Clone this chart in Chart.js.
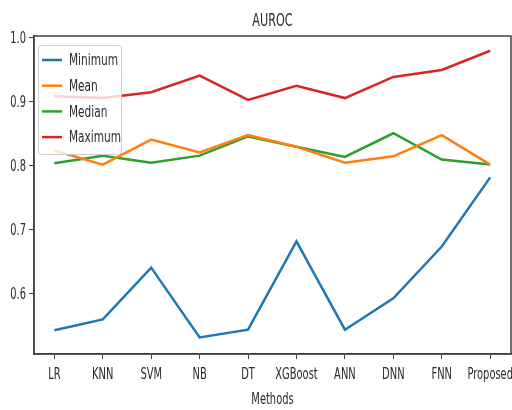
<!DOCTYPE html>
<html>
<head>
<meta charset="utf-8">
<script src="https://cdn.jsdelivr.net/npm/chart.js@4/dist/chart.umd.min.js"></script>
<style>
  html, body { margin: 0; padding: 0; background: #fff; }
  #wrap { width: 512px; height: 410px; }
</style>
</head>
<body>
<div id="wrap"><canvas id="chart" width="512" height="410"></canvas></div>
<script>
const methods = ["LR", "KNN", "SVM", "NB", "DT", "XGBoost", "ANN", "DNN", "FNN", "Proposed"];
const minimumVals = [0.543, 0.560, 0.641, 0.532, 0.544, 0.682, 0.544, 0.593, 0.674, 0.782];
const meanVals    = [0.824, 0.802, 0.841, 0.821, 0.848, 0.830, 0.805, 0.815, 0.848, 0.802];
const medianVals  = [0.804, 0.816, 0.805, 0.816, 0.846, 0.830, 0.814, 0.851, 0.810, 0.802];
const maximumVals = [0.909, 0.906, 0.915, 0.941, 0.903, 0.925, 0.906, 0.939, 0.950, 0.980];
const yTicks = [0.6, 0.7, 0.8, 0.9, 1.0];

const FONT = "'DejaVu Sans', sans-serif";
const SX = 0.66; // the picture's text is squeezed horizontally
const textColor = '#2b2b2b';
const axisColor = '#404040';

function toPoints(vals) {
    return vals.map((v, i) => ({ x: i, y: v }));
}

function series(label, vals, color) {
    return {
        label: label,
        data: toPoints(vals),
        borderColor: color,
        backgroundColor: color,
        borderWidth: 2.5,
        pointRadius: 0,
        tension: 0,
    };
}

function squeezedText(ctx, text, x, y, size, align, baseline) {
    ctx.save();
    ctx.font = size + 'px ' + FONT;
    ctx.fillStyle = textColor;
    ctx.textAlign = align;
    ctx.textBaseline = baseline;
    ctx.translate(x, y);
    ctx.scale(SX, 1);
    ctx.fillText(text, 0, 0);
    ctx.restore();
}

// tick labels, titles: drawn at the scales' own pixel positions
const labels = {
    id: 'labels',
    afterDraw(chart) {
        const ctx = chart.ctx;
        const xs = chart.scales.x, ys = chart.scales.y;
        const a = chart.chartArea;
        xs.ticks.forEach(t => {
            squeezedText(ctx, methods[t.value], xs.getPixelForValue(t.value), 379, 15, 'center', 'alphabetic');
        });
        ys.ticks.forEach(t => {
            squeezedText(ctx, t.value.toFixed(1), 26, ys.getPixelForValue(t.value) + 1, 15, 'right', 'middle');
        });
        squeezedText(ctx, 'AUROC', (a.left + a.right) / 2, 26, 17, 'center', 'alphabetic');
        squeezedText(ctx, 'Methods', (a.left + a.right) / 2, 404, 15, 'center', 'alphabetic');
    }
};

// matplotlib-style legend drawn inside the plot area
const insetLegend = {
    id: 'insetLegend',
    afterDatasetsDraw(chart) {
        const ctx = chart.ctx;
        const area = chart.chartArea;
        const x0 = area.left + 4, y0 = area.top + 9;
        const w = 83, h = 109;
        ctx.save();
        ctx.fillStyle = 'rgba(255,255,255,0.8)';
        ctx.strokeStyle = '#cccccc';
        ctx.lineWidth = 1;
        ctx.beginPath();
        ctx.roundRect(x0 + 0.5, y0 + 0.5, w, h, 3);
        ctx.fill();
        ctx.stroke();
        chart.data.datasets.forEach((ds, i) => {
            const y = y0 + 15 + i * 25.7;
            ctx.strokeStyle = ds.borderColor;
            ctx.lineWidth = 2.5;
            ctx.beginPath();
            ctx.moveTo(x0 + 4, y);
            ctx.lineTo(x0 + 24, y);
            ctx.stroke();
            squeezedText(ctx, ds.label, x0 + 31, y + 1, 16, 'left', 'middle');
        });
        ctx.restore();
    }
};

// top and right spines
const frame = {
    id: 'frame',
    beforeDatasetsDraw(chart) {
        const ctx = chart.ctx;
        const a = chart.chartArea;
        ctx.save();
        ctx.strokeStyle = axisColor;
        ctx.lineWidth = 1.5;
        ctx.strokeRect(a.left, a.top, a.right - a.left, a.bottom - a.top);
        ctx.restore();
    }
};

const chart = new Chart('chart', {
    type: 'line',
    data: {
        datasets: [
            series('Minimum', minimumVals, '#1f77b4'),
            series('Mean', meanVals, '#ff7f0e'),
            series('Median', medianVals, '#2ca02c'),
            series('Maximum', maximumVals, '#d62728'),
        ]
    },
    options: {
        responsive: false,
        animation: false,
        layout: { padding: { left: 0, right: 1, top: 36, bottom: 0 } },
        plugins: {
            legend: { display: false },
            tooltip: { enabled: false },
            title: { display: false }
        },
        scales: {
            x: {
                type: 'linear',
                min: -0.42,
                max: 9.43,
                afterBuildTicks: (scale) => {
                    scale.ticks = methods.map((m, i) => ({ value: i }));
                },
                afterFit: (scale) => {
                    scale.height = 56;
                    scale.paddingLeft = 0;
                    scale.paddingRight = 0;
                },
                ticks: { display: false },
                grid: { drawOnChartArea: false, drawTicks: true, tickLength: 5, color: axisColor },
                border: { display: true, color: axisColor, width: 1.5 }
            },
            y: {
                min: 0.506,
                max: 1.003,
                afterBuildTicks: (scale) => {
                    scale.ticks = yTicks.map(v => ({ value: v }));
                },
                afterFit: (scale) => {
                    scale.width = 34;
                    scale.paddingTop = 0;
                    scale.paddingBottom = 0;
                },
                ticks: { display: false },
                grid: { drawOnChartArea: false, drawTicks: true, tickLength: 5, color: axisColor },
                border: { display: true, color: axisColor, width: 1.5 }
            }
        }
    },
    plugins: [frame, insetLegend, labels]
});
</script>
</body>
</html>
